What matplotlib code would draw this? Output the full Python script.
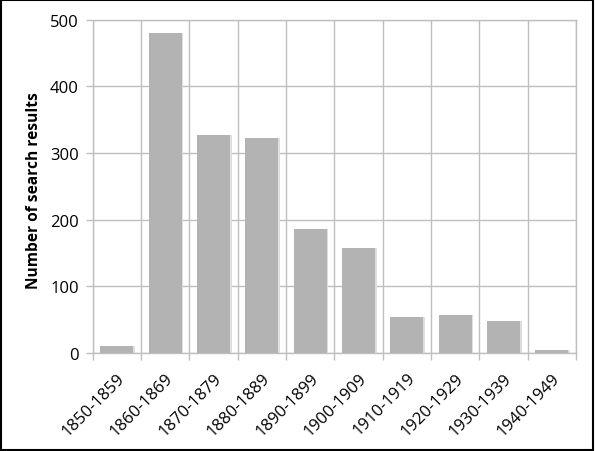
import matplotlib
matplotlib.use("Agg")
import matplotlib.pyplot as plt
from matplotlib.patches import Rectangle
import numpy as np

categories = ["1850-1859", "1860-1869", "1870-1879", "1880-1889", "1890-1899",
              "1900-1909", "1910-1919", "1920-1929", "1930-1939", "1940-1949"]
values = [10, 480, 327, 322, 186, 158, 54, 57, 48, 4]
yticks = [0, 100, 200, 300, 400, 500]

plt.rcParams['font.family'] = ['Open Sans', 'DejaVu Sans']

fig = plt.figure(figsize=(5.95, 4.52), dpi=100)
ax = fig.add_axes([0.1558, 0.2168, 0.968 - 0.1558, 0.954 - 0.2168])

x = np.arange(len(categories))
grid_c = "#bfbfbf"
# shadow
ax.bar(x + 0.035, values, width=0.68, color="#dedede", zorder=2)
ax.bar(x, values, width=0.68, color="#b3b3b3", zorder=3)

ax.set_xlim(-0.5, len(categories) - 0.5)
ax.set_ylim(0, 500)
ax.set_yticks(yticks)
ax.set_yticklabels([str(v) for v in yticks], fontsize=12)
ax.set_xticks(x)
ax.set_xticklabels(categories, rotation=45, ha="right", rotation_mode="anchor", fontsize=12)
ax.set_xticks(np.arange(len(categories) + 1) - 0.5, minor=True)
ax.tick_params(axis="x", which="major", length=0, pad=12)
ax.tick_params(axis="x", which="minor", length=5, color=grid_c, width=1)
ax.tick_params(axis="y", length=5, color=grid_c, width=1, pad=5)

ax.grid(True, axis="y", which="major", color=grid_c, linewidth=1, zorder=1)
ax.grid(True, axis="x", which="minor", color=grid_c, linewidth=1, zorder=1)
ax.set_axisbelow(True)
for s in ax.spines.values():
    s.set_color(grid_c)
    s.set_linewidth(1)

ax.set_ylabel("Number of search results", fontsize=11.2, fontweight="bold")
ax.yaxis.set_label_coords(-0.105, 0.49)

fig.patches.append(Rectangle((0.002, 0.003), 0.994, 0.994, transform=fig.transFigure,
                             fill=False, edgecolor="black", linewidth=1.5))

fig.savefig("out.png", dpi=100)
